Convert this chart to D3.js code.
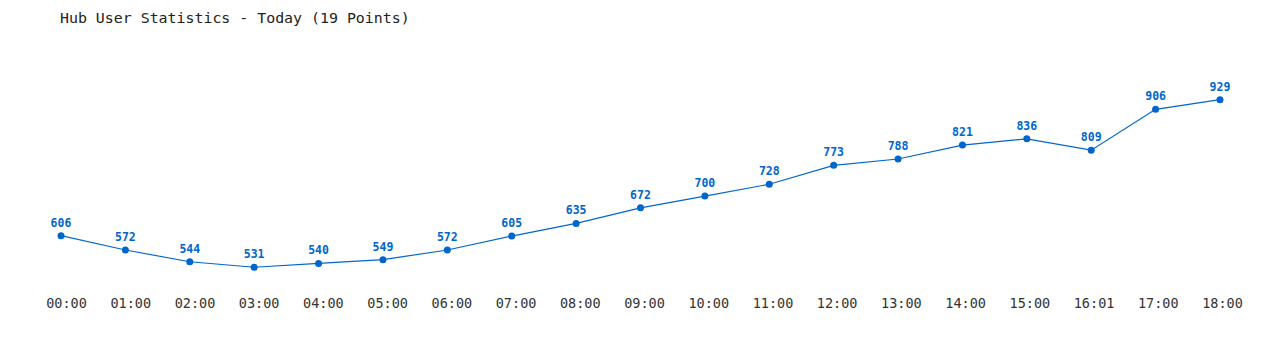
<!DOCTYPE html>
<html><head><meta charset="utf-8">
<script src="https://cdn.jsdelivr.net/npm/d3@7"></script>
<style>body{margin:0;background:#fff}svg{display:block}</style>
</head><body><svg id="c" width="1280" height="350"></svg>
<script>
const categories = ["00:00","01:00","02:00","03:00","04:00","05:00","06:00","07:00","08:00","09:00","10:00","11:00","12:00","13:00","14:00","15:00","16:01","17:00","18:00"];
const values = [606,572,544,531,540,549,572,605,635,672,700,728,773,788,821,836,809,906,929];
const title = "Hub User Statistics - Today (19 Points)";

const svg = d3.select("#c");
const color = "#0066cc";
const x = d3.scalePoint().domain(categories).range([61, 1220]);
const xl = d3.scalePoint().domain(categories).range([66, 1222]);
const y = d3.scaleLinear().domain([500, 950]).range([280.3, 90.8]);

svg.append("text").attr("x", 60).attr("y", 23).text(title)
  .attr("font-family", "DejaVu Sans Mono, monospace").attr("font-size", 14.9).attr("fill", "#222");

const data = categories.map((c, i) => ({c, v: values[i]}));
svg.append("path").datum(data)
  .attr("d", d3.line().x(d => x(d.c)).y(d => y(d.v)))
  .attr("fill", "none").attr("stroke", color).attr("stroke-width", 1.2);

svg.selectAll("circle").data(data).join("circle")
  .attr("cx", d => x(d.c)).attr("cy", d => y(d.v)).attr("r", 3.5).attr("fill", color);

svg.selectAll("text.v").data(data).join("text").attr("class", "v")
  .attr("x", d => x(d.c)).attr("y", d => y(d.v) - 9)
  .attr("text-anchor", "middle").attr("font-family", "DejaVu Sans Mono, monospace")
  .attr("font-weight", "bold").attr("font-size", 11.5).attr("fill", color)
  .text(d => d.v);

const ax = svg.append("g").attr("transform", "translate(0,290)")
  .call(d3.axisBottom(xl).tickSize(0).tickPadding(8));
ax.select(".domain").remove();
ax.selectAll("text").attr("font-family", "DejaVu Sans Mono, monospace").attr("font-size", 13.5).attr("fill", "#333");
</script></body></html>
